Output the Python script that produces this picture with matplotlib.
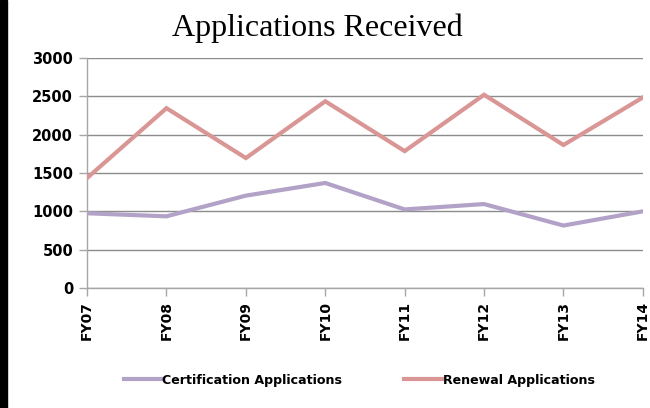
import matplotlib
matplotlib.use("Agg")
import matplotlib.pyplot as plt
from matplotlib.patches import Rectangle

years = ["FY07", "FY08", "FY09", "FY10", "FY11", "FY12", "FY13", "FY14"]
certification = [975, 935, 1205, 1370, 1025, 1095, 815, 1000]
renewal = [1435, 2345, 1695, 2435, 1785, 2520, 1865, 2485]
y_ticks = [0, 500, 1000, 1500, 2000, 2500, 3000]

fig = plt.figure(figsize=(6.5, 4.08), dpi=100)
ax = fig.add_axes([0.134, 0.294, 0.855, 0.564])

# black strip on the left edge of the screenshot
fig.patches.append(Rectangle((0, 0), 0.011, 1, transform=fig.transFigure,
                             color="black", zorder=10))

x = range(len(years))
ax.plot(x, certification, color="#b3a2c7", lw=3, label="Certification Applications",
        solid_joinstyle="miter", zorder=3)
ax.plot(x, renewal, color="#d99694", lw=3, label="Renewal Applications",
        solid_joinstyle="miter", zorder=3)

ax.set_xlim(0, len(years) - 1)
ax.set_ylim(0, 3000)
ax.set_yticks(y_ticks)
ax.set_xticks(list(x))
ax.set_xticklabels(years, rotation=90, fontweight="bold", fontsize=10)
ax.set_yticklabels([str(v) for v in y_ticks], fontweight="bold", fontsize=10.5)

ax.grid(axis="y", color="#8c8c8c", lw=1)
ax.set_axisbelow(True)
for s in ["top", "right"]:
    ax.spines[s].set_visible(False)
for s in ["left", "bottom"]:
    ax.spines[s].set_color("#a6a6a6")
    ax.spines[s].set_linewidth(1)
ax.tick_params(axis="both", color="#a6a6a6", length=6, width=1)
ax.tick_params(axis="y", pad=4)

fig.text(0.488, 0.93, "Applications Received", ha="center", va="center",
         fontsize=23, family="Liberation Serif")

fig.legend(loc="center", bbox_to_anchor=(0.553, 0.068), ncol=2, frameon=False,
           prop={"weight": "bold", "size": 9.1}, handlelength=2.95,
           handletextpad=0.1, columnspacing=4.9)

fig.savefig("out.png", dpi=100)
